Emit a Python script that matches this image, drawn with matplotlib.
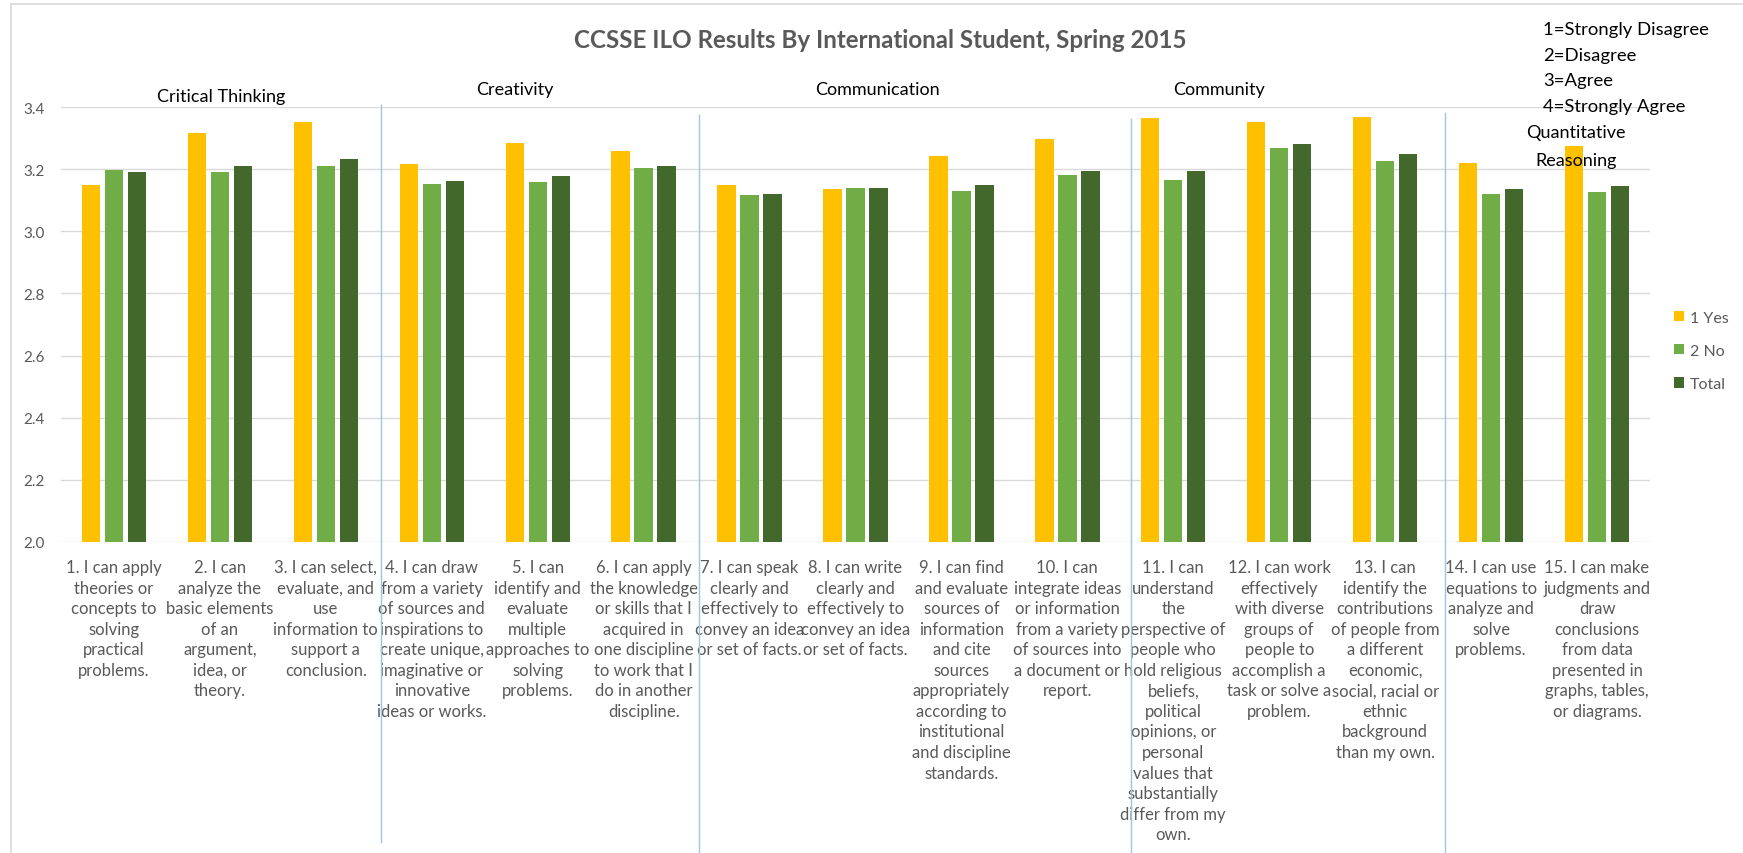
import matplotlib
matplotlib.use("Agg")
import matplotlib.pyplot as plt
from matplotlib.lines import Line2D
from matplotlib.patches import Patch
import numpy as np

plt.rcParams['font.family'] = ['Lato', 'DejaVu Sans']

W, H = 1743, 854

categories = [
    "1. I can apply\ntheories or\nconcepts to\nsolving\npractical\nproblems.",
    "2. I can\nanalyze the\nbasic elements\nof an\nargument,\nidea, or\ntheory.",
    "3. I can select,\nevaluate, and\nuse\ninformation to\nsupport a\nconclusion.",
    "4. I can draw\nfrom a variety\nof sources and\ninspirations to\ncreate unique,\nimaginative or\ninnovative\nideas or works.",
    "5. I can\nidentify and\nevaluate\nmultiple\napproaches to\nsolving\nproblems.",
    "6. I can apply\nthe knowledge\nor skills that I\nacquired in\none discipline\nto work that I\ndo in another\ndiscipline.",
    "7. I can speak\nclearly and\neffectively to\nconvey an idea\nor set of facts.",
    "8. I can write\nclearly and\neffectively to\nconvey an idea\nor set of facts.",
    "9. I can find\nand evaluate\nsources of\ninformation\nand cite\nsources\nappropriately\naccording to\ninstitutional\nand discipline\nstandards.",
    "10. I can\nintegrate ideas\nor information\nfrom a variety\nof sources into\na document or\nreport.",
    "11. I can\nunderstand\nthe\nperspective of\npeople who\nhold religious\nbeliefs,\npolitical\nopinions, or\npersonal\nvalues that\nsubstantially\ndiffer from my\nown.",
    "12. I can work\neffectively\nwith diverse\ngroups of\npeople to\naccomplish a\ntask or solve a\nproblem.",
    "13. I can\nidentify the\ncontributions\nof people from\na different\neconomic,\nsocial, racial or\nethnic\nbackground\nthan my own.",
    "14. I can use\nequations to\nanalyze and\nsolve\nproblems.",
    "15. I can make\njudgments and\ndraw\nconclusions\nfrom data\npresented in\ngraphs, tables,\nor diagrams.",
]

yes_vals = [3.148, 3.317, 3.353, 3.217, 3.284, 3.258, 3.148, 3.137, 3.243, 3.299,
            3.367, 3.352, 3.370, 3.219, 3.275]
no_vals = [3.199, 3.192, 3.210, 3.154, 3.160, 3.205, 3.116, 3.140, 3.131, 3.181,
           3.166, 3.269, 3.227, 3.122, 3.128]
total_vals = [3.192, 3.210, 3.232, 3.163, 3.178, 3.210, 3.119, 3.140, 3.148, 3.196,
              3.195, 3.281, 3.248, 3.136, 3.147]

series_names = ["1 Yes", "2 No", "Total"]
series_colors = ["#FFC000", "#70AD47", "#43682B"]

y_ticks = [2.0, 2.2, 2.4, 2.6, 2.8, 3.0, 3.2, 3.4]
title = "CCSSE ILO Results By International Student, Spring 2015"
section_names = ["Critical Thinking", "Creativity", "Communication", "Community",
                 "Quantitative\nReasoning"]
scale_key = "1=Strongly Disagree\n2=Disagree\n3=Agree\n4=Strongly Agree"


def fx(x):
    return x / W


def fy(y):
    return 1 - y / H


fig = plt.figure(figsize=(W / 100, H / 100), dpi=100)
fig.patch.set_facecolor("white")

ax_l, ax_r, ax_t, ax_b = 61, 1650, 108.3, 542.7
ax = fig.add_axes([fx(ax_l), fy(ax_b), fx(ax_r - ax_l), (ax_b - ax_t) / H])

x = np.arange(len(categories))
bw = 0.173
off = 0.217
for i, (vals, name, col) in enumerate(zip([yes_vals, no_vals, total_vals],
                                          series_names, series_colors)):
    ax.bar(x + (i - 1) * off, vals, width=bw, color=col, label=name, zorder=3)

ax.set_xlim(-0.5, len(categories) - 0.5)
ax.set_ylim(2.0, 3.4)
ax.set_yticks(y_ticks)
ax.set_yticklabels([f"{v:.1f}" for v in y_ticks])
ax.yaxis.grid(True, color="#D9D9D9", linewidth=1.0, zorder=0)
ax.set_axisbelow(True)
for s in ax.spines.values():
    s.set_visible(False)
ax.tick_params(axis="y", length=0, pad=11.5, labelsize=11, labelcolor="#595959")
ax.set_xticks(x)
ax.set_xticklabels(categories, fontsize=12, color="#595959", linespacing=1.35,
                   va="top", ha="center")
ax.tick_params(axis="x", length=0, pad=12.5)

# Title
fig.text(fx(880), fy(40), title, ha="center", va="center", fontsize=17.4,
         fontweight="bold", color="#595959")

# Section labels
sec_pos = [(221, 97), (515, 90), (877, 90), (1219, 90)]
for name, (px_, py_) in zip(section_names[:4], sec_pos):
    fig.text(fx(px_), fy(py_), name, ha="center", va="center", fontsize=13,
             color="black")
fig.text(fx(1576), fy(147), section_names[4], ha="center", va="center",
         fontsize=13, color="black", linespacing=1.9)

# Scale key
fig.text(fx(1543), fy(22), scale_key, ha="left", va="top", fontsize=13.3,
         color="black", linespacing=1.74)

# Separator lines
sep_lines = [(381, 106, 843), (699, 116, 854), (1131, 120, 854), (1445, 114, 854)]
for sx, st, sb in sep_lines:
    fig.add_artist(Line2D([fx(sx), fx(sx)], [fy(st), fy(sb)], color="#9DC3E6",
                          linewidth=1.0))

# Chart frame
fig.add_artist(Line2D([fx(11), 1.0], [fy(5), fy(5)], color="#D9D9D9", linewidth=1.2))
fig.add_artist(Line2D([fx(11), fx(11)], [fy(5), 0.0], color="#D9D9D9", linewidth=1.2))

# Legend
handles = [Patch(facecolor=c, edgecolor="none") for c in series_colors]
fig.legend(handles, series_names, loc="center left",
           bbox_to_anchor=(fx(1660), fy(352)), frameon=False, fontsize=11.5,
           handlelength=0.6, handleheight=0.6, handletextpad=0.35,
           labelspacing=1.2, labelcolor="#595959")

fig.savefig("out.png", dpi=100, facecolor="white")
